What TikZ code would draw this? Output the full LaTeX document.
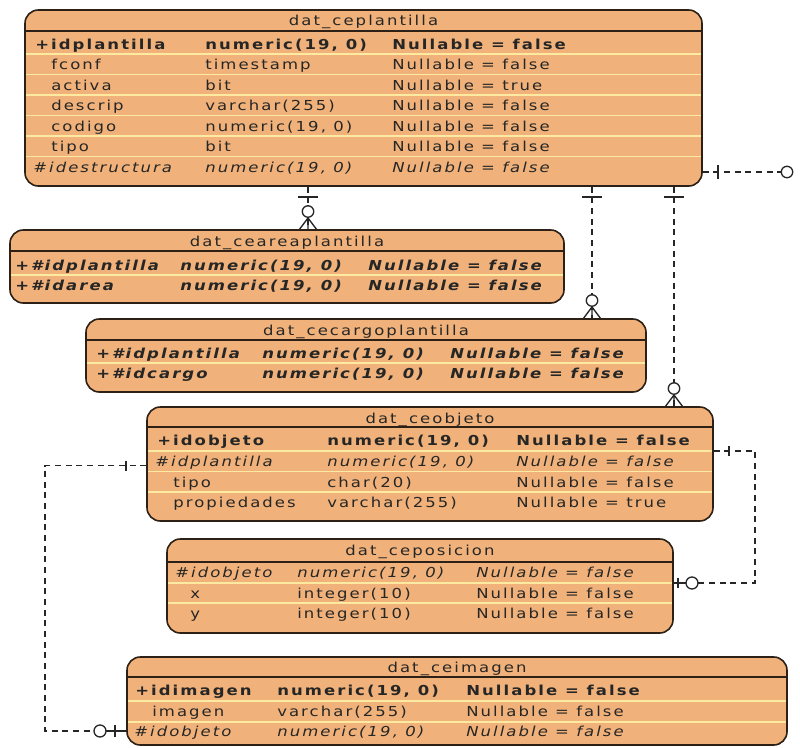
\documentclass[tikz,border=0pt]{standalone}
\usepackage{fontspec}
\setmainfont{DejaVu Sans}[FakeStretch=1.2,LetterSpace=15]
\usetikzlibrary{fit}
\definecolor{tfill}{RGB}{240,178,122}
\definecolor{tsep}{RGB}{252,234,160}
\definecolor{tline}{RGB}{45,32,22}
\newcommand\erow[9]{%
  \node[cell] (#1a) at (#3,#2) {#6#7};
  \node[cell] (#1b) at (#4,#2) {#6#8};
  \node[cell] (#1c) at (#5,#2) {#6#9};}
\newcommand\crowdown[2]{%
  \draw[endmark] (#1-9,#2) -- (#1,#2-12) -- (#1+9,#2) (#1,#2-12.5) -- (#1,#2);
  \draw[endmark,fill=white] (#1,#2-18.5) circle[radius=4.3pt];}
\newcommand\tbar[2]{\draw[endmark] (#1-10,#2) -- (#1+10,#2);}
\newcommand\vbar[3]{\draw[endmark] (#1,#2-#3) -- (#1,#2+#3);}
\begin{document}
\begin{tikzpicture}[x=0.75pt,y=-0.75pt,
  tbl/.style={draw=tline,fill=tfill,line width=1.2pt,rounded corners=10pt,inner sep=0pt},
  hdr/.style={draw=tline,line width=1pt},
  sep/.style={draw=tsep,line width=1.1pt},
  cell/.style={anchor=west,inner sep=0pt,text height=7.5pt,text depth=0pt,font=\fontsize{10.3}{12}\selectfont,text=black!85},
  ttl/.style={cell,anchor=center},
  conn/.style={draw=black!85,line width=1pt,dash pattern=on 4.5pt off 3.5pt},
  endmark/.style={draw=black!85,line width=1pt}]
\useasboundingbox (0,0) rectangle (800,747);
% ---------- dat_ceplantilla
\node[tbl,fit={(25,10)(702,186)}] (T1) {};
\foreach \y in {54,74.5,95,115.5,136,156.5} \draw[sep] (26,\y) -- (701,\y);
\draw[hdr] (25,31) -- (702,31);
\node[ttl] (T1t) at (363.5,20.5) {dat\_ceplantilla};
\erow{t1r1}{44}{35}{205}{392}{\bfseries}{+idplantilla}{numeric(19, 0)}{Nullable = false}
\erow{t1r2}{64.5}{51}{205}{392}{}{fconf}{timestamp}{Nullable = false}
\erow{t1r3}{85}{51}{205}{392}{}{activa}{bit}{Nullable = true}
\erow{t1r4}{105.5}{51}{205}{392}{}{descrip}{varchar(255)}{Nullable = false}
\erow{t1r5}{126}{51}{205}{392}{}{codigo}{numeric(19, 0)}{Nullable = false}
\erow{t1r6}{146.5}{51}{205}{392}{}{tipo}{bit}{Nullable = false}
\erow{t1r7}{167}{33}{205}{392}{\itshape}{\#idestructura}{numeric(19, 0)}{Nullable = false}
% ---------- dat_ceareaplantilla
\node[tbl,fit={(10,230)(564,303)}] (T2) {};
\draw[sep] (11,275) -- (563,275);
\draw[hdr] (10,251) -- (564,251);
\node[ttl] (T2t) at (287,241) {dat\_ceareaplantilla};
\erow{t2r1}{265}{15}{180}{368}{\bfseries\itshape}{+\#idplantilla}{numeric(19, 0)}{Nullable = false}
\erow{t2r2}{285}{15}{180}{368}{\bfseries\itshape}{+\#idarea}{numeric(19, 0)}{Nullable = false}
% ---------- dat_cecargoplantilla
\node[tbl,fit={(86,319)(646,392)}] (T3) {};
\draw[sep] (87,363) -- (645,363);
\draw[hdr] (86,340) -- (646,340);
\node[ttl] (T3t) at (366,330) {dat\_cecargoplantilla};
\erow{t3r1}{353}{96}{262}{450}{\bfseries\itshape}{+\#idplantilla}{numeric(19, 0)}{Nullable = false}
\erow{t3r2}{373}{96}{262}{450}{\bfseries\itshape}{+\#idcargo}{numeric(19, 0)}{Nullable = false}
% ---------- dat_ceobjeto
\node[tbl,fit={(147,407)(713,521)}] (T4) {};
\foreach \y in {451,471.5,492} \draw[sep] (148,\y) -- (712,\y);
\draw[hdr] (147,427) -- (713,427);
\node[ttl] (T4t) at (430,418) {dat\_ceobjeto};
\erow{t4r1}{440}{157}{327}{516}{\bfseries}{+idobjeto}{numeric(19, 0)}{Nullable = false}
\erow{t4r2}{461}{155}{327}{516}{\itshape}{\#idplantilla}{numeric(19, 0)}{Nullable = false}
\erow{t4r3}{482}{173}{327}{516}{}{tipo}{char(20)}{Nullable = false}
\erow{t4r4}{502}{173}{327}{516}{}{propiedades}{varchar(255)}{Nullable = true}
% ---------- dat_ceposicion
\node[tbl,fit={(167,539)(673,633)}] (T5) {};
\foreach \y in {583,603} \draw[sep] (168,\y) -- (672,\y);
\draw[hdr] (167,562) -- (673,562);
\node[ttl] (T5t) at (420,550) {dat\_ceposicion};
\erow{t5r1}{572}{175}{297}{476}{\itshape}{\#idobjeto}{numeric(19, 0)}{Nullable = false}
\erow{t5r2}{593}{190}{297}{476}{}{x}{integer(10)}{Nullable = false}
\erow{t5r3}{613}{190}{297}{476}{}{y}{integer(10)}{Nullable = false}
% ---------- dat_ceimagen
\node[tbl,fit={(127,657)(787,745)}] (T6) {};
\foreach \y in {701,722} \draw[sep] (128,\y) -- (786,\y);
\draw[hdr] (127,677) -- (787,677);
\node[ttl] (T6t) at (457,667) {dat\_ceimagen};
\erow{t6r1}{690}{135}{277}{466}{\bfseries}{+idimagen}{numeric(19, 0)}{Nullable = false}
\erow{t6r2}{711}{152}{277}{466}{}{imagen}{varchar(255)}{Nullable = false}
\erow{t6r3}{731}{134}{277}{466}{\itshape}{\#idobjeto}{numeric(19, 0)}{Nullable = false}
% ---------- connectors
\coordinate (x1) at (308,0);
\coordinate (x2) at (592,0);
\coordinate (x3) at (674,0);
\draw[conn] (T1.south -| x1) -- (T2.north -| x1);
\draw[conn] (T1.south -| x2) -- (T3.north -| x2);
\draw[conn] (T1.south -| x3) -- (T4.north -| x3);
\tbar{308}{197} \tbar{592}{197} \tbar{674}{197}
\crowdown{308}{230} \crowdown{592}{319} \crowdown{674}{407}
% external reference from dat_ceplantilla
\coordinate (y4) at (0,172);
\coordinate (e4) at (781.5,172);
\draw[conn] (T1.east |- y4) -- (e4);
\vbar{718}{172}{7}
\draw[endmark,fill=white] (787,172) circle[radius=4.3pt];
% dat_ceobjeto -> dat_ceimagen
\coordinate (y5a) at (0,465.5);
\coordinate (y5b) at (0,731);
\coordinate (k5) at (45,600);
\draw[conn] (T4.west |- y5a) -| (k5) |- (T6.west |- y5b);
\vbar{126}{465.5}{5}
\draw[endmark] (100,731) -- (T6.west |- y5b);
\vbar{115}{731}{6}
\draw[endmark,fill=white] (100,731) circle[radius=4.5pt];
% dat_ceobjeto -> dat_ceposicion
\coordinate (y6a) at (0,451);
\coordinate (y6b) at (0,583);
\coordinate (k6) at (755,520);
\draw[conn] (T4.east |- y6a) -| (k6) |- (T5.east |- y6b);
\vbar{729}{451}{5}
\draw[endmark] (T5.east |- y6b) -- (692,583);
\vbar{678}{583}{5}
\draw[endmark,fill=white] (692,583) circle[radius=4.5pt];
\end{tikzpicture}
\end{document}
